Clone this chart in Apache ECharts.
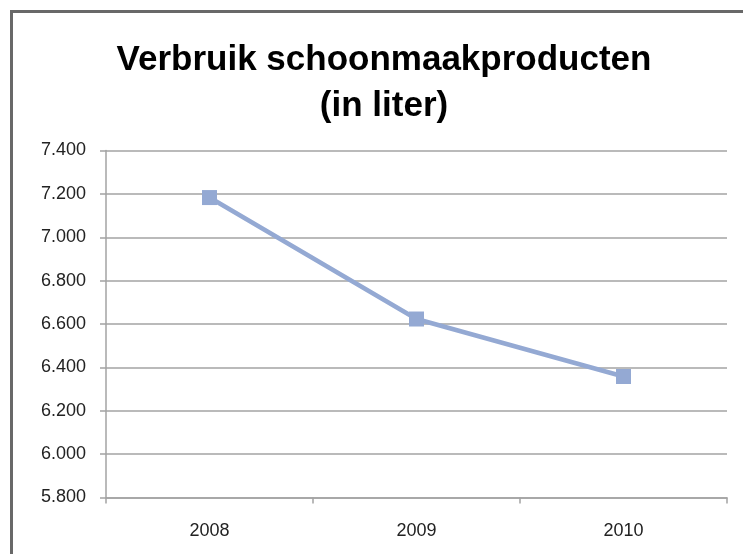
<!DOCTYPE html>
<html>
<head>
<meta charset="utf-8">
<script src="https://cdn.jsdelivr.net/npm/echarts@6/dist/echarts.min.js"></script>
<style>
html,body{margin:0;padding:0;background:#fff;}
#chart{width:743px;height:554px;}
</style>
</head>
<body>
<div id="chart"></div>
<script>
const titleText = "Verbruik schoonmaakproducten\n(in liter)";
const categories = ["2008", "2009", "2010"];
const values = [7183, 6623, 6358];
const yMin = 5800, yMax = 7400, yStep = 200;

const chart = echarts.init(document.getElementById('chart'), null, {renderer: 'canvas'});
const gridColor = '#a3a3a3';
const font = 'Liberation Sans, Arial, sans-serif';
chart.setOption({
  animation: false,
  backgroundColor: '#ffffff',
  graphic: [{
    type: 'rect',
    shape: {x: 11.5, y: 11.5, width: 800, height: 600},
    style: {fill: 'none', stroke: '#686868', lineWidth: 3},
    silent: true, z: 100
  }],
  title: {
    text: titleText,
    left: 379,
    top: 32,
    textAlign: 'center',
    textStyle: {fontFamily: font, fontWeight: 'bold', fontSize: 35, lineHeight: 46, color: '#000'}
  },
  grid: {left: 106, right: 16, top: 150.5, bottom: 56.5, containLabel: false},
  xAxis: {
    type: 'category',
    data: categories,
    boundaryGap: true,
    axisLine: {show: true, lineStyle: {color: gridColor, width: 1.5}},
    axisTick: {show: true, alignWithLabel: false, length: 6, lineStyle: {color: gridColor, width: 1.5}},
    axisLabel: {margin: 25, fontFamily: font, fontSize: 18, color: '#222'},
    splitLine: {show: false}
  },
  yAxis: {
    type: 'value',
    min: yMin, max: yMax, interval: yStep,
    axisLine: {show: true, lineStyle: {color: gridColor, width: 1.5}},
    axisTick: {show: true, length: 6, lineStyle: {color: gridColor, width: 1.5}},
    axisLabel: {margin: 20, fontFamily: font, fontSize: 18, color: '#222',
      formatter: v => (v / 1000).toFixed(3)},
    splitLine: {show: true, lineStyle: {color: gridColor, width: 1.5}}
  },
  series: [{
    type: 'line',
    data: values,
    symbol: 'rect',
    symbolSize: 15,
    lineStyle: {color: '#94a9d3', width: 4.5},
    itemStyle: {color: '#94a9d3'},
    z: 5
  }]
});
</script>
</body>
</html>
